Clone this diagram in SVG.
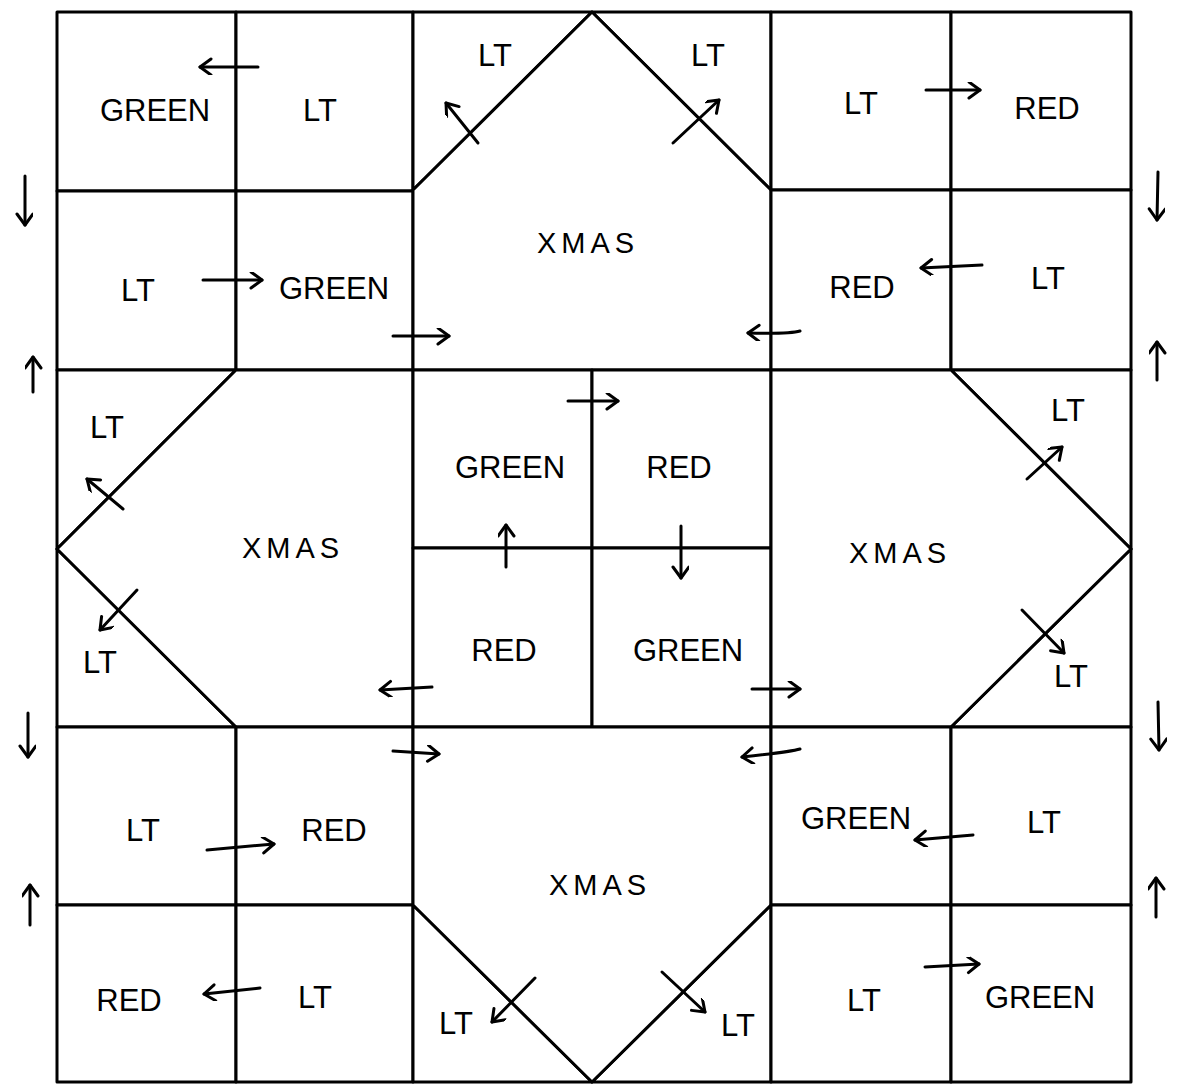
<svg xmlns="http://www.w3.org/2000/svg" width="1183" height="1087" viewBox="0 0 1183 1087">
<style>
.p{fill:#fff;stroke:#000;stroke-width:3;stroke-linejoin:round}
.t{font-family:"Liberation Sans",Arial,sans-serif;font-size:31px;fill:#000;text-anchor:middle;dominant-baseline:central}
.x{font-size:29px;letter-spacing:5px}
.a{fill:none;stroke:#000;stroke-width:3;stroke-linecap:round;marker-end:url(#h)}
</style>
<defs>
<marker id="h" markerUnits="userSpaceOnUse" markerWidth="20" markerHeight="20" refX="14" refY="8" orient="auto">
<path d="M3,0 L14,8 L3,16" fill="none" stroke="#000" stroke-width="3" stroke-linecap="round" stroke-linejoin="round"/>
</marker>
</defs>
<rect width="1183" height="1087" fill="#fff"/>
<!-- top-left block -->
<g id="tl-green"><rect class="p" x="57" y="12" width="179" height="179"/><text class="t" x="155" y="110">GREEN</text></g>
<g id="tl-lt"><rect class="p" x="236" y="12" width="177" height="179"/><text class="t" x="320" y="110">LT</text></g>
<g id="tl-lt2"><rect class="p" x="57" y="191" width="179" height="179"/><text class="t" x="138" y="290">LT</text></g>
<g id="tl-green2"><rect class="p" x="236" y="191" width="177" height="179"/><text class="t" x="334" y="288">GREEN</text></g>
<!-- top centre -->
<g id="tc-lt-left"><polygon class="p" points="413,12 592,12 413,190"/><text class="t" x="495" y="55">LT</text></g>
<g id="tc-lt-right"><polygon class="p" points="592,12 771,12 771,190"/><text class="t" x="708" y="55">LT</text></g>
<g id="tc-xmas"><polygon class="p" points="413,190 592,12 771,190 771,370 413,370"/><text class="t x" x="588" y="243">XMAS</text></g>
<!-- top-right block -->
<g id="tr-lt"><rect class="p" x="771" y="12" width="180" height="178"/><text class="t" x="861" y="103">LT</text></g>
<g id="tr-red"><rect class="p" x="951" y="12" width="180" height="178"/><text class="t" x="1047" y="108">RED</text></g>
<g id="tr-red2"><rect class="p" x="771" y="190" width="180" height="180"/><text class="t" x="862" y="287">RED</text></g>
<g id="tr-lt2"><rect class="p" x="951" y="190" width="180" height="180"/><text class="t" x="1048" y="278">LT</text></g>
<!-- middle left -->
<g id="ml-lt-top"><polygon class="p" points="57,370 236,370 57,549"/><text class="t" x="107" y="427">LT</text></g>
<g id="ml-lt-bottom"><polygon class="p" points="57,549 236,727 57,727"/><text class="t" x="100" y="662">LT</text></g>
<g id="ml-xmas"><polygon class="p" points="236,370 413,370 413,727 236,727 57,549"/><text class="t x" x="293" y="548">XMAS</text></g>
<!-- centre -->
<g id="c-green"><rect class="p" x="413" y="370" width="179" height="178"/><text class="t" x="510" y="467">GREEN</text></g>
<g id="c-red"><rect class="p" x="592" y="370" width="179" height="178"/><text class="t" x="679" y="467">RED</text></g>
<g id="c-red2"><rect class="p" x="413" y="548" width="179" height="179"/><text class="t" x="504" y="650">RED</text></g>
<g id="c-green2"><rect class="p" x="592" y="548" width="179" height="179"/><text class="t" x="688" y="650">GREEN</text></g>
<!-- middle right -->
<g id="mr-lt-top"><polygon class="p" points="951,370 1131,370 1131,549"/><text class="t" x="1068" y="410">LT</text></g>
<g id="mr-lt-bottom"><polygon class="p" points="1131,549 1131,727 951,727"/><text class="t" x="1071" y="676">LT</text></g>
<g id="mr-xmas"><polygon class="p" points="771,370 951,370 1131,549 951,727 771,727"/><text class="t x" x="900" y="553">XMAS</text></g>
<!-- bottom-left block -->
<g id="bl-lt"><rect class="p" x="57" y="727" width="179" height="178"/><text class="t" x="143" y="830">LT</text></g>
<g id="bl-red"><rect class="p" x="236" y="727" width="177" height="178"/><text class="t" x="334" y="830">RED</text></g>
<g id="bl-red2"><rect class="p" x="57" y="905" width="179" height="177"/><text class="t" x="129" y="1000">RED</text></g>
<g id="bl-lt2"><rect class="p" x="236" y="905" width="177" height="177"/><text class="t" x="315" y="997">LT</text></g>
<!-- bottom centre -->
<g id="bc-lt-left"><polygon class="p" points="413,905 592,1082 413,1082"/><text class="t" x="456" y="1023">LT</text></g>
<g id="bc-lt-right"><polygon class="p" points="771,905 771,1082 592,1082"/><text class="t" x="738" y="1025">LT</text></g>
<g id="bc-xmas"><polygon class="p" points="413,727 771,727 771,905 592,1082 413,905"/><text class="t x" x="600" y="885">XMAS</text></g>
<!-- bottom-right block -->
<g id="br-green"><rect class="p" x="771" y="727" width="180" height="178"/><text class="t" x="856" y="818">GREEN</text></g>
<g id="br-lt"><rect class="p" x="951" y="727" width="180" height="178"/><text class="t" x="1044" y="822">LT</text></g>
<g id="br-lt2"><rect class="p" x="771" y="905" width="180" height="177"/><text class="t" x="864" y="1000">LT</text></g>
<g id="br-green2"><rect class="p" x="951" y="905" width="180" height="177"/><text class="t" x="1040" y="997">GREEN</text></g>
<!-- connectors -->
<g id="connectors">
<line class="a" x1="258" y1="67" x2="200" y2="67"/>
<line class="a" x1="203" y1="280" x2="262" y2="280"/>
<line class="a" x1="393" y1="336" x2="449" y2="336"/>
<path class="a" d="M800,331 Q790,334 748,333"/>
<line class="a" x1="478" y1="143" x2="446" y2="103"/>
<line class="a" x1="673" y1="143" x2="719" y2="100"/>
<line class="a" x1="926" y1="90" x2="980" y2="90"/>
<line class="a" x1="982" y1="265" x2="921" y2="268"/>
<line class="a" x1="568" y1="401" x2="618" y2="401"/>
<line class="a" x1="506" y1="567" x2="506" y2="525"/>
<line class="a" x1="681" y1="526" x2="681" y2="578"/>
<line class="a" x1="432" y1="687" x2="380" y2="690"/>
<line class="a" x1="752" y1="689" x2="800" y2="689"/>
<line class="a" x1="123" y1="509" x2="87" y2="479"/>
<line class="a" x1="137" y1="590" x2="100" y2="630"/>
<line class="a" x1="1027" y1="479" x2="1062" y2="447"/>
<line class="a" x1="1022" y1="610" x2="1064" y2="653"/>
<line class="a" x1="393" y1="751" x2="439" y2="754"/>
<path class="a" d="M800,749 Q790,752 742,757"/>
<line class="a" x1="207" y1="850" x2="274" y2="844"/>
<line class="a" x1="260" y1="988" x2="204" y2="994"/>
<line class="a" x1="535" y1="978" x2="492" y2="1022"/>
<line class="a" x1="662" y1="972" x2="705" y2="1012"/>
<line class="a" x1="973" y1="835" x2="915" y2="840"/>
<line class="a" x1="925" y1="967" x2="979" y2="964"/>
<line class="a" x1="25" y1="176" x2="25" y2="225"/>
<line class="a" x1="33" y1="392" x2="33" y2="357"/>
<line class="a" x1="28" y1="713" x2="28" y2="757"/>
<line class="a" x1="30" y1="925" x2="30" y2="885"/>
<line class="a" x1="1158" y1="172" x2="1157" y2="220"/>
<line class="a" x1="1157" y1="380" x2="1157" y2="342"/>
<line class="a" x1="1158" y1="702" x2="1159" y2="750"/>
<line class="a" x1="1156" y1="917" x2="1156" y2="878"/>
</g>
</svg>
